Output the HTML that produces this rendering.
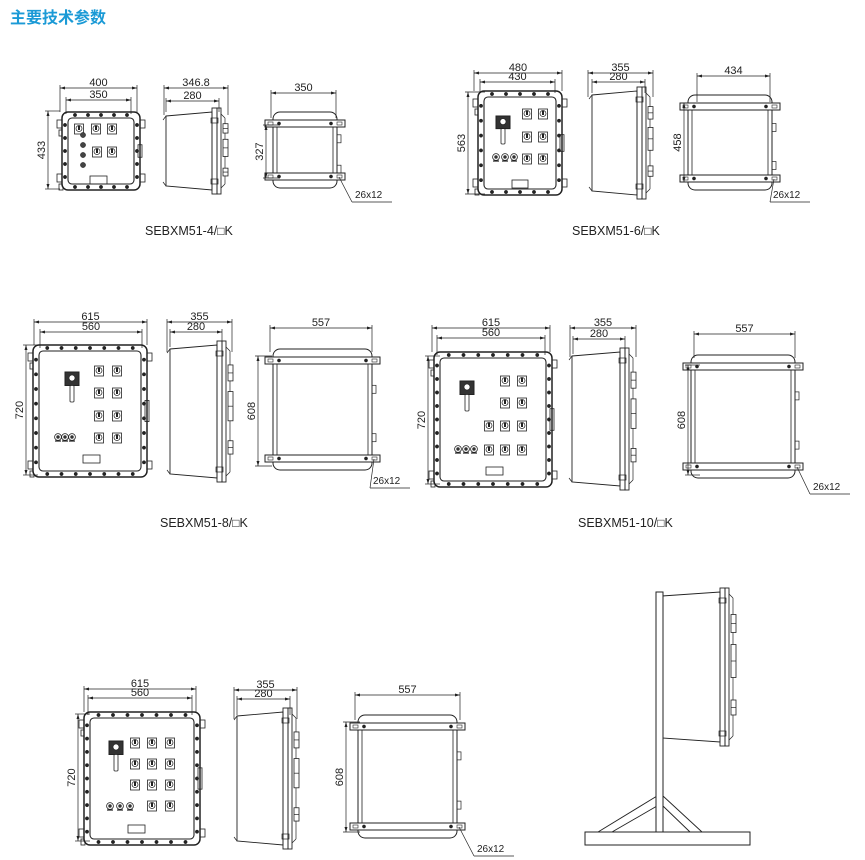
<!DOCTYPE html>
<html><head><meta charset="utf-8"><style>
html,body{margin:0;padding:0;background:#fff;width:865px;height:860px;overflow:hidden}
svg{display:block}
text{font-family:"Liberation Sans",Arial,sans-serif;fill:#222}
</style></head><body>
<svg id="s" width="865" height="860" viewBox="0 0 865 860" xmlns="http://www.w3.org/2000/svg">
<text x="10" y="23" style='font-family:"Liberation Sans","Noto Sans CJK SC",sans-serif;font-weight:bold;font-size:16px;fill:#1b9ad6'>主要技术参数</text>
</svg>
<script>
var S=document.getElementById('s'),out='';
function a(t){out+=t;}
function L(x1,y1,x2,y2,w){a('<line x1="'+x1+'" y1="'+y1+'" x2="'+x2+'" y2="'+y2+'" stroke="#222" stroke-width="'+(w||0.7)+'"/>');}
function R(x,y,w,h,sw,rx,fill){a('<rect x="'+x+'" y="'+y+'" width="'+w+'" height="'+h+'" rx="'+(rx||0)+'" fill="'+(fill||'none')+'" stroke="#222" stroke-width="'+(sw||0.8)+'"/>');}
function C(x,y,r,f,sw){a('<circle cx="'+x+'" cy="'+y+'" r="'+r+'" fill="'+(f||'#222')+'" stroke="#222" stroke-width="'+(sw||0.5)+'"/>');}
function T(x,y,s,sz,rot,anchor){a('<text x="'+x+'" y="'+y+'" font-size="'+(sz||11)+'" text-anchor="'+(anchor||'middle')+'"'+(rot?' transform="rotate(-90 '+x+' '+y+')"':'')+'>'+s+'</text>');}
function hdim(x1,x2,y,lab,ext){L(x1,y,x2,y);a('<path d="M'+x1+' '+y+'l5 -1.5v3zM'+x2+' '+y+'l-5 -1.5v3z" fill="#222"/>');L(x1,y-3,x1,ext);L(x2,y-3,x2,ext);T((x1+x2)/2,y-2,lab);}
function vdim(x,y1,y2,lab,ext){L(x,y1,x,y2);a('<path d="M'+x+' '+y1+'l-1.5 5h3zM'+x+' '+y2+'l-1.5 -5h3z" fill="#222"/>');L(x-3,y1,ext,y1);L(x-3,y2,ext,y2);T(x-3,(y1+y2)/2,lab,11,1);}
function sw(x,y){R(x-4.5,y-5,9,10,0.8);C(x,y-0.5,3,'#fff',0.7);a('<path d="M'+(x-1)+' '+(y-3)+'h2v4h-2z" fill="#222"/>');}
function lamp(x,y){C(x,y,3.4,'#fff',0.8);C(x,y,1.6,'#333',0.3);L(x-3,y+4,x+3,y+4,1.2);}
function handle(x,y,h){a('<path d="M'+(x-7)+' '+y+'h14v'+(h*0.45)+'h-14z" fill="#333" stroke="#222"/>');R(x-2,y+h*0.45,4,h*0.55,0.8,1,'#fff');C(x,y+h*0.2,3,'#fff',0.6);}
function front(x0,y0,x1,y1){var w=x1-x0,h=y1-y0;
 [[y0+8],[y1-16]].forEach(function(t){R(x0-5,t[0],6,8,0.8);R(x1-1,t[0],6,8,0.8);R(x0-3,t[0]+10,4,6,0.8);});
 R(x0,y0,w,h,1.5,6,'#fff');R(x0+6,y0+6,w-12,h-12,1.1,4);
 var n=Math.round(w/14);for(var i=1;i<n;i++){var x=x0+i*w/n;C(x,y0+3,1.7);C(x,y1-3,1.7);}
 n=Math.round(h/14);for(i=1;i<n;i++){var y=y0+i*h/n;C(x0+3,y,1.7);C(x1-3,y,1.7);}
 R(x1-2,y0+h*0.42,4,h*0.16,0.8);}
function plate(x,y,w){R(x,y,w,8,0.8);}
function side(x0,y0,x1,y1){var f=x1-16;
 a('<path d="M'+(x0+1)+' '+(y0+4)+'L'+f+' '+y0+'V'+y1+'L'+(x0+1)+' '+(y1-4)+'Z" fill="#fff" stroke="#222" stroke-width="0.9"/>');
 L(x0+1,y0+4,x0-2,y0+8);L(x0+1,y1-4,x0-2,y1-8);
 R(f,y0-4,5,y1-y0+8,0.9);R(f+5,y0-4,4,y1-y0+8,0.9);
 L(f+9,y0+2,x1-3,y0+6);L(x1-3,y0+6,x1-3,y1-6);L(x1-3,y1-6,f+9,y1-2);
 var h=y1-y0;[[0.15,0.12],[0.35,0.22],[0.72,0.1]].forEach(function(c){R(x1-5,y0+h*c[0],5,h*c[1],0.8,0,'#fff');L(x1-5,y0+h*(c[0]+c[1]/2),x1,y0+h*(c[0]+c[1]/2));});
 R(f-1,y0+6,7,5,0.7);R(f-1,y1-11,7,5,0.7);}
function back(x0,y0,x1,y1,lx,ly){var h=y1-y0;
 R(x0+8,y0,x1-x0-16,h,1,7,'#fff');R(x0+12,y0+14,x1-x0-24,h-28,0.8);
 R(x0,y0+8,x1-x0,7,1,0,'#fff');R(x0,y1-15,x1-x0,7,1,0,'#fff');
 [y0+11.5,y1-11.5].forEach(function(y){R(x0+3,y-1.5,5,3,0.6);C(x0+14,y,1.6);C(x1-14,y,1.6);R(x1-8,y-1.5,5,3,0.6);});
 R(x1-8,y0+h*0.3,4,8,0.7);R(x1-8,y1-h*0.3,4,8,0.7);
 L(x1-6,y1-11,lx,ly+4);L(lx,ly+4,lx+40,ly+4);T(lx+3,ly,'26x12',10,0,'start');}
function cap(x,y,s){a('<text x="'+x+'" y="'+y+'" font-size="12.5" text-anchor="start">'+s.replace('□','<tspan style="font-size:12px">□</tspan>')+'</text>');}

front(62,112,140,190);
[79,96,112].forEach(function(x){sw(x,129);});sw(97,152);sw(112,152);
[135,145,155,165].forEach(function(y){C(83,y,2.6,'#444',0.5);});plate(90,176,17);
hdim(60,137,88,'400',112);hdim(66,131,100,'350',114);vdim(48,111,189,'433',60);
side(165,112,228,190);hdim(164,228,88,'346.8',115);hdim(166,219,101,'280',112);
back(265,112,345,188,352,198);hdim(271,336,93,'350',118);vdim(266,125,178,'327',280);
cap(145,235,'SEBXM51-4/□K');

front(478,91,562,195);
sw(527,114);sw(543,114);sw(527,137);sw(543,137);sw(527,159);sw(543,159);
handle(503,116,28);lamp(496,157);lamp(505,157);lamp(514,157);plate(512,180,16);
hdim(474,562,73,'480',91);hdim(480,555,82,'430',93);vdim(468,92,194,'563',485);
side(591,91,653,195);hdim(588,653,73,'355',97);hdim(592,645,82,'280',93);
back(680,95,780,190,770,198);hdim(697,770,76,'434',102);vdim(684,103,182,'458',700);
cap(572,235,'SEBXM51-6/□K');

front(33,345,147,477);
[371,393,416,438].forEach(function(y){sw(99,y);sw(117,y);});
handle(72,372,30);lamp(58,437);lamp(65,437);lamp(72,437);plate(83,455,17);
hdim(34,147,322,'615',345);hdim(40,142,332,'560',348);vdim(26,345,475,'720',38);
side(169,345,233,478);hdim(167,232,322,'355',352);hdim(170,222,332,'280',347);
back(265,349,380,470,370,484);hdim(270,372,328,'557',352);vdim(258,356,466,'608',272);
cap(160,527,'SEBXM51-8/□K');

front(434,352,552,487);
sw(505,381);sw(522,381);sw(505,403);sw(522,403);[489,505,522].forEach(function(x){sw(x,426);sw(x,450);});
handle(467,381,30);lamp(458,449);lamp(466,449);lamp(474,449);plate(486,467,17);
hdim(432,550,328,'615',352);hdim(437,545,338,'560',355);vdim(428,356,484,'720',440);
side(571,352,636,486);hdim(570,636,328,'355',357);hdim(573,625,339,'280',354);
back(683,355,803,478,810,490);hdim(694,795,334,'557',358);vdim(688,365,475,'608',700);
cap(578,527,'SEBXM51-10/□K');

front(84,712,200,845);
[135,152,170].forEach(function(x){sw(x,743);sw(x,764);sw(x,785);});sw(152,806);sw(170,806);
handle(116,741,30);lamp(110,806);lamp(120,806);lamp(130,806);plate(128,825,17);
hdim(84,196,689,'615',712);hdim(88,192,698,'560',715);vdim(78,714,841,'720',90);
side(236,712,299,845);hdim(234,297,690,'355',719);hdim(237,290,699,'280',715);
back(350,715,465,838,474,852);hdim(355,460,695,'557',720);vdim(346,722,832,'608',360);

R(585,832,165,13,1,0,'#fff');
L(598,832,657,796,0.9);L(612,832,657,806,0.9);L(663,796,702,832,0.9);L(663,806,690,832,0.9);
side(661,592,736,742);
R(656,592,7,240,1,0,'#fff');
S.insertAdjacentHTML('beforeend',out);
</script>
</body></html>
